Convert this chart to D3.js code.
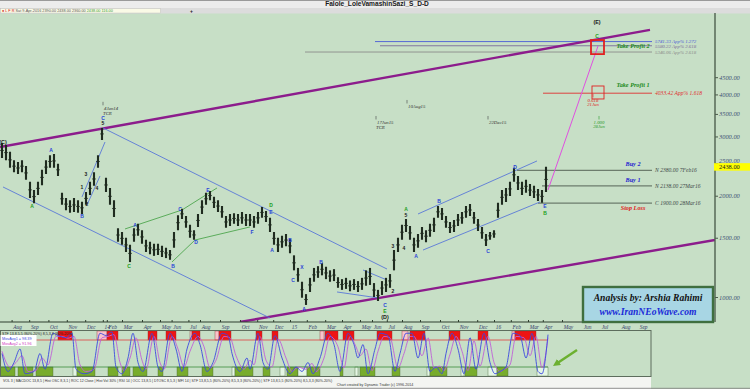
<!DOCTYPE html>
<html><head><meta charset="utf-8">
<script src="https://cdn.jsdelivr.net/npm/d3@7"></script>
<style>html,body{margin:0;padding:0;background:#c7dfc6;}svg{display:block}</style>
</head><body><svg id="c" width="750" height="389"></svg>
<script>
// ---------------- DATA ----------------
// price bars (one bar per slot), highs and lows
const barHigh = [2870,2830,2700,2550,2520,2550,2450,2200,2080,2200,2390,2550,2640,2660,2490,2040,1970,1940,1970,1940,1920,2050,2200,2350,2640,3180,2260,2110,1940,1600,1560,1500,1430,1600,1650,1580,1480,1460,1440,1440,1420,1400,1380,1560,1750,1830,1740,1640,1580,1765,1940,2040,2065,1985,1940,1865,1740,1765,1775,1765,1790,1765,1765,1740,1790,1850,1800,1720,1560,1500,1520,1540,1490,1330,1220,1110,1020,1140,1220,1235,1260,1230,1200,1210,1145,1130,1140,1120,1130,1115,1140,1200,1220,1100,1050,1115,1140,1170,1380,1500,1640,1705,1625,1500,1540,1615,1580,1650,1720,1865,1840,1740,1670,1695,1765,1790,1865,1890,1790,1705,1615,1540,1560,1580,1905,2080,2110,2200,2420,2290,2200,2230,2165,2140,2095,2080,2438];
const barLow = [2590,2550,2420,2350,2320,2350,2230,1970,1900,2010,2150,2320,2420,2420,2290,1880,1810,1780,1790,1780,1765,1880,2010,2140,2420,2930,2050,1880,1730,1460,1430,1360,1270,1460,1520,1440,1360,1340,1325,1333,1315,1305,1290,1400,1580,1705,1605,1500,1480,1615,1765,1880,1940,1840,1790,1720,1605,1625,1650,1625,1650,1625,1625,1605,1650,1720,1670,1560,1430,1360,1400,1415,1350,1200,1110,995,947,1035,1110,1140,1160,1130,1110,1115,1065,1050,1057,1040,1050,1035,1050,1080,1086,1000,973,1014,1035,1065,1200,1360,1480,1560,1480,1360,1400,1480,1455,1510,1560,1720,1695,1605,1550,1560,1625,1650,1720,1740,1650,1570,1490,1417,1480,1500,1720,1880,1915,1995,2200,2080,2010,2040,1995,1970,1930,1905,2050];
const lastPrice = 2438;

// month ticks (slot position of month start) and labels
const monthLabels = ["Aug","Sep","Oct","Nov","Dec","14","Feb","Mar","Apr","May","Jun","Jul","Aug","Sep","Oct","Nov","Dec","15","Feb","Mar","Apr","May","Jun","Jul","Aug","Sep","Oct","Nov","Dec","16","Feb","Mar","Apr","May","Jun","Jul","Aug","Sep"];
const monthSlots  = [2.4,6.8,11.6,16.2,20.8,25.2,26.2,30,35,39.5,42.4,46.6,49.5,54.5,59.5,63.8,67.8,72,76.2,80.8,85,89.5,92.5,96.2,100,104.5,109.5,114,118.8,123,127.2,131.5,135.2,140,145,149.5,154.5,159];
const priceTicks = [1000,1500,2000,2500,3000,3500,4000,4500];

// trend lines: [slot, price] pairs
const purpleLines = [
  [[-0.5,2790],[162,6220]],
  [[59.5,843],[178.25,1477]]
];
const blueLines = [
  [[25.25,3180],[96.25,1211]],
  [[0.25,2123],[67,866]],
  [[20,1983],[25.75,2888]],
  [[21.25,1877],[24.5,2289]],
  [[83.75,1035],[94,994]],
  [[90.25,1203],[96.25,1123]],
  [[104,1765],[133.75,2537]],
  [[105.25,1379],[134.5,1916]]
];
const greenLines = [
  [[30.75,1593],[45,1814],[53.75,2109]],
  [[42.5,1271],[48.25,1477]],
  [[48.25,1477],[62,1615]]
];
const targetLine = [[136.5,2080],[149,5570]];

// projection levels
const fibLevels = [
  {p:5741.33, from:93.25, text:"5741.33 App% 1.272"},
  {p:5580.22, from:94.5,  text:"5580.22 App% 2.618"},
  {p:5346.06, from:75.75, text:"5346.06 App% 2.618"},
  {p:4033.42, from:135.25,text:"4033.42 App% 1.618"}
];
const tradeLevels = [
  {p:2380, from:128.75, text:"N 2380.00 7Feb16",  tag:"Buy 2"},
  {p:2138, from:135,    text:"N 2138.00 27Mar16", tag:"Buy 1"},
  {p:1900, from:134,    text:"C 1900.00 28Mar16", tag:"Stop Loss"}
];
const targetBoxes = [
  {s0:147.25, s1:150.5, p0:5803, p1:5270, text:"Take Profit 2"},
  {s0:147.5,  s1:150.5, p0:4237, p1:3877, text:"Take Profit 1"}
];

// wave labels [slot, price, text, kind]
const waveLabels = [
  [0.25,2890,"(C)","k"],[7.5,1865,"A","g"],[12.25,2734,"A","b"],[20,1741,"B","b"],
  [20,2123,"1","k"],[21.25,1890,"2","k"],[21,2321,"3","k"],[23.75,2109,"4","k"],
  [25.25,3404,"C","b"],[25.25,3289,"5","k"],
  [31.75,1237,"C","g"],[33.25,1637,"A","b"],[42.75,1237,"B","b"],[44.5,1827,"C","b"],
  [48.5,1457,"D","b"],[51.5,2080,"E","b"],[62.5,1561,"F","b"],[67.25,1877,"D","g"],
  [67.25,1790,"E","b"],[67.5,1379,"A","b"],[72,1477,"B","b"],[72.75,1123,"C","b"],
  [75,1228,"X","b"],[75.5,921,"A","b"],[79.75,1271,"B","b"],
  [97.75,1042,"2","k"],[97.75,1417,"3","k"],[100.5,1398,"4","k"],[101,1753,"5","k"],
  [95.75,947,"C","b"],[95.75,909,"E","g"],[95.75,872,"(D)","k"],
  [101,1827,"A","g"],[103.5,1324,"A","b"],[109.25,1929,"B","b"],[121.5,1370,"C","b"],
  [128.25,2435,"D","b"],[135.75,1864,"E","b"],[135.75,1777,"B","g"],
  [148.75,6565,"(E)","k"],[148.75,5966,"C","g"]
];
// time markers [slot, price, line1, line2]
const timeMarks = [
  [25.25,3750,"4Jan14","TCR"],
  [93.5,3404,"17Jun15","TCR"],
  [101.25,3798,"10Aug15",""],
  [121.5,3404,"22Dec15",""]
];
const timeTargets = [
  [147.75,3960,"0.618","21Jun","r"],
  [149.25,3404,"1.000","28Jun","g"]
];

// oscillator (stochastic) points [slot, value]
const stochK = [[0,50],[1.5,10],[3,30],[4.5,60],[5.75,5],[8,10],[9.5,50],[10.75,15],[12.75,95],[14,90],[16,85],[17.5,95],[18.5,15],[20.5,5],[22.5,10],[24.5,95],[26,90],[27.5,98],[28.5,20],[30,5],[31.5,40],[32.75,95],[34,30],[35.25,10],[37.5,95],[39,20],[40,10],[42,95],[43.5,60],[45,10],[46.25,60],[48.25,95],[49.5,70],[51.25,10],[52.75,30],[55,95],[56.5,90],[57.5,50],[59.5,10],[61.25,40],[62,15],[64,95],[65.25,30],[66.5,15],[68.25,90],[70,40],[72,5],[73.5,20],[75,10],[76.5,30],[77.75,5],[79.5,40],[81.5,95],[83,70],[84.5,10],[86.5,95],[88,70],[89,40],[90.25,70],[91.5,5],[93.25,60],[94.5,95],[96.5,90],[98.25,10],[99.5,50],[101,95],[102.5,95],[104,40],[105.5,95],[107,10],[108.5,20],[110,5],[111,50],[112.5,95],[114,60],[115.5,5],[117,85],[118.5,15],[120.5,95],[122,30],[123.25,5],[124.5,10],[126,20],[127.75,95],[129.5,90],[131,40],[132.5,95],[134,10],[135,5],[136.5,92]];
const stochD = [[0,55],[2,20],[3.5,30],[5,45],[6.5,10],[8.5,12],[10,40],[11.5,25],[13.5,88],[15,88],[16.5,84],[18,88],[19.5,25],[21,10],[23,15],[25,85],[26.5,88],[28,92],[29.5,30],[30.5,12],[32,40],[33.5,85],[35,35],[36,15],[38,88],[39.5,30],[40.5,15],[42.5,88],[44,60],[45.5,20],[47,55],[49,88],[50.5,65],[52,18],[53.5,35],[55.5,88],[57,85],[58.5,45],[60.5,15],[62,35],[63,25],[64.5,88],[66,35],[67.5,20],[69,82],[71,40],[72.5,10],[74,20],[76,15],[77.5,28],[78.5,10],[80.5,40],[82,88],[84,65],[85.5,18],[87,88],[88.5,65],[89.5,45],[91,60],[92.5,12],[94,55],[95.5,88],[97,85],[99,18],[100.5,50],[102,88],[103,88],[105,45],[106.5,85],[108,18],[109.5,22],[110.5,12],[112,48],[113.5,88],[115,55],[116.5,12],[118,78],[119.5,22],[121.5,88],[123,30],[124.5,10],[125.5,15],[127,25],[128.5,88],[130.5,85],[132,45],[133.5,88],[135,18],[136.5,85]];
// overbought zones [from, to, strong]
const obZones = [[14,17.5,1],[23.75,26.25,0],[26.25,29,1],[36.5,38.75,1],[41,43.5,1],[47,47.5,0],[47.5,49.5,1],[53.25,54.25,0],[54.25,57.25,1],[63.5,65,1],[67.5,69,1],[79.5,80.5,0],[80.75,84,1],[85.25,88,1],[93.75,97.5,1],[100,101.5,0],[102,105.75,1],[111.75,114.5,1],[119,121.5,1],[127.5,128.25,0],[128.25,133.5,1]];
// oversold zones [from, to, strong]
const osZones = [[-0.5,3.25,1],[4,7.75,1],[8.5,12.75,1],[17.75,18.75,0],[18.75,23.25,1],[26.5,29,1],[30,32,1],[32.75,36.25,1],[39,40.25,1],[43.75,46.5,1],[50,52.75,1],[57.5,58.25,0],[58.25,62.75,1],[65.25,67,1],[69.5,70.75,0],[71.25,74,1],[74,76.25,0],[76.25,79.5,1],[84.5,85.25,1],[88.25,89,0],[89.5,93.25,1],[97.5,99.5,1],[106.25,107,0],[107,111.25,1],[114.75,115.5,0],[115.75,118.75,1],[121.5,123.75,0],[123.75,126.5,1],[133.75,136.5,0]];
const obLevel = 80, osLevel = 20;

// ---------------- DRAW ----------------
const svg = d3.select("#c");
const W = 750, H = 389;
const x = d3.scaleLinear().domain([0,180]).range([2,722]);
const y = d3.scaleLog().domain([1000,10000]).range([297,-39.5]);
const yo = d3.scaleLinear().domain([0,100]).range([376,331]);
const serif = "'Liberation Serif','DejaVu Serif',serif";
const sans = "'Liberation Sans','DejaVu Sans',sans-serif";

svg.append("rect").attr("width",W).attr("height",H).attr("fill","#c7dfc6");
// title strip
svg.append("rect").attr("x",0).attr("y",0).attr("width",W).attr("height",8).attr("fill","#ececec");
svg.append("line").attr("x1",0).attr("x2",W).attr("y1",0.5).attr("y2",0.5).attr("stroke","#9a9a9a");
svg.append("text").attr("x",377).attr("y",6.2).attr("text-anchor","middle")
  .attr("font-family",sans).attr("font-weight","bold").attr("font-size",6.6).attr("fill","#1a1a1a")
  .text("Falole_LoleVamashinSazi_S_D-D");
svg.append("rect").attr("x",0).attr("y",8).attr("width",W).attr("height",5.5).attr("fill","#dcdcdc");
svg.append("rect").attr("x",0.5).attr("y",8.6).attr("width",160).attr("height",4.4).attr("fill","#fafae6").attr("stroke","#b8b8b8").attr("stroke-width",0.4);
const tb = svg.append("text").attr("x",2).attr("y",12.2).attr("font-family",sans).attr("font-size",3.8);
tb.append("tspan").attr("fill","#d01010").text("\u25CF L  F  R   ");
tb.append("tspan").attr("fill","#555").text("Sat 9-Apr-2016   2390.00   2438.00   2360.00   ");
tb.append("tspan").attr("fill","#3a9a3a").text("2438.00   116.00");
svg.append("text").attr("x",190).attr("y",12.6).attr("font-family",sans).attr("font-size",5).attr("font-weight","bold").attr("fill","#222").text("+");

// clip for main panel
svg.append("defs").append("clipPath").attr("id","mc").append("rect")
  .attr("x",0).attr("y",13.5).attr("width",715).attr("height",308.5);
const main = svg.append("g").attr("clip-path","url(#mc)");
const line = d3.line().x(d=>x(d[0])).y(d=>y(d[1]));

// horizontal projection levels
fibLevels.forEach((l,i)=>{
  const col = ["#4a5ad8","#7a6a9a","#8a8a8a","#e03030"][i];
  main.append("line").attr("x1",x(l.from)).attr("x2",652).attr("y1",y(l.p)).attr("y2",y(l.p))
    .attr("stroke",col).attr("stroke-width",0.9);
  svg.append("text").attr("x",655).attr("y",y(l.p)+(i===0?1.2:i===1?2.6:2)).attr("font-family",serif).attr("font-style","italic")
    .attr("font-size",i===3?5.6:4.9).attr("fill",col).text(l.text);
});
tradeLevels.forEach((l,i)=>{
  main.append("line").attr("x1",x(l.from)).attr("x2",652).attr("y1",y(l.p)).attr("y2",y(l.p))
    .attr("stroke","#6d7d6d").attr("stroke-width",1.3);
  svg.append("text").attr("x",655).attr("y",y(l.p)+2).attr("font-family",serif).attr("font-style","italic")
    .attr("font-size",5.6).attr("fill","#404848").text(l.text);
  const isStop = i===2;
  svg.append("text").attr("x",633).attr("y",isStop? y(l.p)+6.5 : y(l.p)-4).attr("text-anchor","middle")
    .attr("font-family",serif).attr("font-style","italic").attr("font-weight","bold").attr("font-size",6.2)
    .attr("fill",isStop?"#e01818":"#2222d0").text(l.tag);
});

// trend / channel lines
purpleLines.forEach(p=>main.append("path").attr("d",line(p)).attr("fill","none").attr("stroke","#8c1c8c").attr("stroke-width",2.4));
blueLines.forEach(p=>main.append("path").attr("d",line(p)).attr("fill","none").attr("stroke","#5a78d8").attr("stroke-width",0.9));
greenLines.forEach(p=>main.append("path").attr("d",line(p)).attr("fill","none").attr("stroke","#4ea64e").attr("stroke-width",0.9));
main.append("path").attr("d",line(targetLine)).attr("fill","none").attr("stroke","#e050e0").attr("stroke-width",1);

// price bars
main.append("g").selectAll("line").data(barHigh).join("line")
  .attr("x1",(d,i)=>x(i)).attr("x2",(d,i)=>x(i))
  .attr("y1",d=>y(d)).attr("y2",(d,i)=>y(barLow[i]))
  .attr("stroke","#1f2b1f").attr("stroke-width",2.1);
main.append("g").selectAll("line").data(barHigh).join("line")
  .attr("x1",(d,i)=>x(i)-1.9).attr("x2",(d,i)=>x(i)+1.9)
  .attr("y1",(d,i)=>y(Math.sqrt(d*barLow[i]))).attr("y2",(d,i)=>y(Math.sqrt(d*barLow[i])))
  .attr("stroke","#1f2b1f").attr("stroke-width",0.8);

// target boxes
targetBoxes.forEach((b,i)=>{
  main.append("rect").attr("x",x(b.s0)).attr("y",y(b.p0)).attr("width",x(b.s1)-x(b.s0)).attr("height",y(b.p1)-y(b.p0))
    .attr("fill","none").attr("stroke","#e02020").attr("stroke-width",i===0?1.8:0.9);
  svg.append("text").attr("x",633).attr("y",(y(b.p0)+y(b.p1))/2+(i===0?1:-5)).attr("text-anchor","middle")
    .attr("font-family",serif).attr("font-style","italic").attr("font-weight","bold").attr("font-size",6.2)
    .attr("fill","#1a8a1a").text(b.text);
});

// wave labels
const kc = {b:"#2a44d8", g:"#22a022", k:"#202020"};
main.append("g").selectAll("text").data(waveLabels).join("text")
  .attr("x",d=>x(d[0])).attr("y",d=>y(d[1])).attr("dy","0.35em").attr("text-anchor","middle")
  .attr("font-family",sans).attr("font-weight","bold").attr("font-size",d=>d[2].length>1?5.4:5)
  .attr("fill",d=>kc[d[3]]).text(d=>d[2]);

// time markers
timeMarks.forEach(t=>{
  main.append("line").attr("x1",x(t[0])).attr("x2",x(t[0])).attr("y1",y(t[1])-2).attr("y2",y(t[1])+1.5).attr("stroke","#444").attr("stroke-width",0.6);
  main.append("text").attr("x",x(t[0])+1).attr("y",y(t[1])+6).attr("font-family",serif).attr("font-style","italic").attr("font-size",4.8).attr("fill","#333").text(t[2]);
  if(t[3]) main.append("text").attr("x",x(t[0])).attr("y",y(t[1])+11).attr("font-family",serif).attr("font-style","italic").attr("font-size",4.8).attr("fill","#333").text(t[3]);
});
timeTargets.forEach(t=>{
  const col = t[4]==="r" ? "#e02020" : "#2a9a2a";
  main.append("line").attr("x1",x(t[0])).attr("x2",x(t[0])).attr("y1",y(t[1])-2).attr("y2",y(t[1])+1.5).attr("stroke",col).attr("stroke-width",0.6);
  main.append("text").attr("x",x(t[0])).attr("y",y(t[1])+6).attr("text-anchor","middle").attr("font-family",serif).attr("font-style","italic").attr("font-size",4.8).attr("fill",col).text(t[2]);
  main.append("text").attr("x",x(t[0])).attr("y",y(t[1])+10.5).attr("text-anchor","middle").attr("font-family",serif).attr("font-style","italic").attr("font-size",4.8).attr("fill",col).text(t[3]);
});

// right price axis
const ya = d3.axisRight(y).tickValues(priceTicks).tickFormat(d=>d.toFixed(2)).tickSize(3).tickPadding(1);
const yg = svg.append("g").attr("transform","translate(715,0)").call(ya);
yg.select(".domain").remove();
yg.selectAll("line").attr("stroke","#4a5a4a");
yg.selectAll("text").attr("font-family",serif).attr("font-style","italic").attr("font-size",6.4).attr("fill","#3d4d72");
yg.selectAll(".tick").filter(d=>d===2500).select("text").attr("dy","-0.05em");
svg.append("line").attr("x1",715).attr("x2",715).attr("y1",13).attr("y2",322).attr("stroke","#4f604f").attr("stroke-width",1.4);
svg.append("rect").attr("x",714).attr("y",y(lastPrice)-3.6).attr("width",36).attr("height",7.5).attr("fill","#ffff00");
svg.append("text").attr("x",719).attr("y",y(lastPrice)+2.4).attr("font-family",serif).attr("font-size",6.4).attr("fill","#222").text(lastPrice.toFixed(2));

// bottom time axis
const xa = d3.axisBottom(x).tickValues(monthSlots).tickFormat((d,i)=>monthLabels[i]).tickSize(-2).tickPadding(0);
const xg = svg.append("g").attr("transform","translate(0,322)").call(xa);
xg.select(".domain").remove();
xg.selectAll("line").attr("stroke","#2f3f2f");
xg.selectAll("text").attr("text-anchor","start").attr("dx",1.2).attr("y",6.5).attr("dy",0)
  .attr("font-family",serif).attr("font-style","italic").attr("font-size",5.4).attr("fill","#33406a");
svg.append("line").attr("x1",0).attr("x2",652).attr("y1",322).attr("y2",322).attr("stroke","#2f3f2f").attr("stroke-width",1.2);

// analysis box
svg.append("rect").attr("x",583).attr("y",287).attr("width",130).attr("height",35).attr("fill","#a8d6e4").attr("stroke","#3f6f3f").attr("stroke-width",2.4);
svg.append("text").attr("x",648).attr("y",300.5).attr("text-anchor","middle").attr("font-family",serif).attr("font-style","italic").attr("font-weight","bold").attr("font-size",9.6).attr("fill","#111").text("Analysis by: Arshia Rahimi");
svg.append("text").attr("x",648).attr("y",314.5).attr("text-anchor","middle").attr("font-family",serif).attr("font-style","italic").attr("font-weight","bold").attr("font-size",9.6).attr("fill","#1a2ad8").text("www.IranNEoWave.com");

// ---- oscillator panel ----
const op = svg.append("g");
svg.append("defs").append("clipPath").attr("id","oc").append("rect").attr("x",0).attr("y",330.5).attr("width",651).attr("height",46);
const og = op.append("g").attr("clip-path","url(#oc)");
og.selectAll("rect.ob").data(obZones).join("rect").attr("class","ob")
  .attr("x",d=>x(d[0])).attr("width",d=>x(d[1])-x(d[0])).attr("y",yo(100)).attr("height",yo(obLevel)-yo(100))
  .attr("fill",d=>d[2]?"#ee1414":"#f8c4cc").attr("stroke","#8a3030").attr("stroke-width",0.4);
og.selectAll("rect.os").data(osZones).join("rect").attr("class","os")
  .attr("x",d=>x(d[0])).attr("width",d=>x(d[1])-x(d[0])).attr("y",yo(osLevel)).attr("height",yo(0)-yo(osLevel))
  .attr("fill",d=>d[2]?"#78ac2c":"#e4f6e4").attr("stroke","#4a6a3a").attr("stroke-width",0.4);
og.append("line").attr("x1",0).attr("x2",x(136.5)).attr("y1",yo(obLevel)).attr("y2",yo(obLevel)).attr("stroke","#e04040").attr("stroke-width",0.8);
og.append("line").attr("x1",0).attr("x2",x(136.5)).attr("y1",yo(osLevel)).attr("y2",yo(osLevel)).attr("stroke","#3a8a3a").attr("stroke-width",0.8);
const ol = d3.line().x(d=>x(d[0])).y(d=>yo(d[1])).curve(d3.curveMonotoneX);
og.append("path").attr("d",ol(stochD)).attr("fill","none").attr("stroke","#c060d8").attr("stroke-width",0.9);
og.append("path").attr("d",ol(stochK)).attr("fill","none").attr("stroke","#3b48e0").attr("stroke-width",0.9);
op.append("rect").attr("x",0.5).attr("y",330.5).attr("width",650.5).attr("height",46).attr("fill","none").attr("stroke","#5d6d5d").attr("stroke-width",1);
op.append("text").attr("x",2).attr("y",334.5).attr("font-family",sans).attr("font-size",3.6).attr("fill","#222").text("STF 13,8,5,5 (80%-20%) 8,5,3,3 (80%-20%)");
op.append("rect").attr("x",0.5).attr("y",335).attr("width",36).attr("height",11).attr("fill","#ffffff");
op.append("text").attr("x",2).attr("y",339.5).attr("font-family",sans).attr("font-size",3.8).attr("fill","#3b48e0").text("MovAvg1 = 98.39");
op.append("text").attr("x",2).attr("y",344.5).attr("font-family",sans).attr("font-size",3.8).attr("fill","#d040c0").text("MovAvg2 = 91.96");

// green arrow
svg.append("defs").append("marker").attr("id","ah").attr("viewBox","0 0 10 10").attr("refX",5).attr("refY",5)
  .attr("markerWidth",3).attr("markerHeight",3).attr("orient","auto")
  .append("path").attr("d","M0,0L10,5L0,10z").attr("fill","#6cb030");
svg.append("line").attr("x1",577).attr("y1",350).attr("x2",556).attr("y2",364).attr("stroke","#6cb030").attr("stroke-width",2.4).attr("marker-end","url(#ah)");

// bottom strip
svg.append("rect").attr("x",0).attr("y",377).attr("width",651).attr("height",12).attr("fill","#f4f5f2");
svg.append("text").attr("x",3).attr("y",381.5).attr("font-family",sans).attr("font-size",3.5).attr("fill","#333")
  .text("VOL 3 | MACDOC 13,8,5 | Hist OSC 8,3,1 | ROC 12 Close | Hist Vol 30% | RSI 14 | OCC 13,8,5 | DTOSC 8,5,3 | MFI 14 | STF 13,8,5,5 (80%-20%) 8,5,3,3 (80%-20%) | STF 13,8,5,5 (80%-20%) 8,5,3,3 (80%-20%)");
svg.append("text").attr("x",375).attr("y",386.3).attr("text-anchor","middle").attr("font-family",sans).attr("font-size",3.6).attr("fill","#333")
  .text("Chart created by Dynamic Trader  (c) 1996-2014");
svg.append("line").attr("x1",0).attr("x2",W).attr("y1",388.3).attr("y2",388.3).attr("stroke","#777").attr("stroke-width",0.8);
</script></body></html>
